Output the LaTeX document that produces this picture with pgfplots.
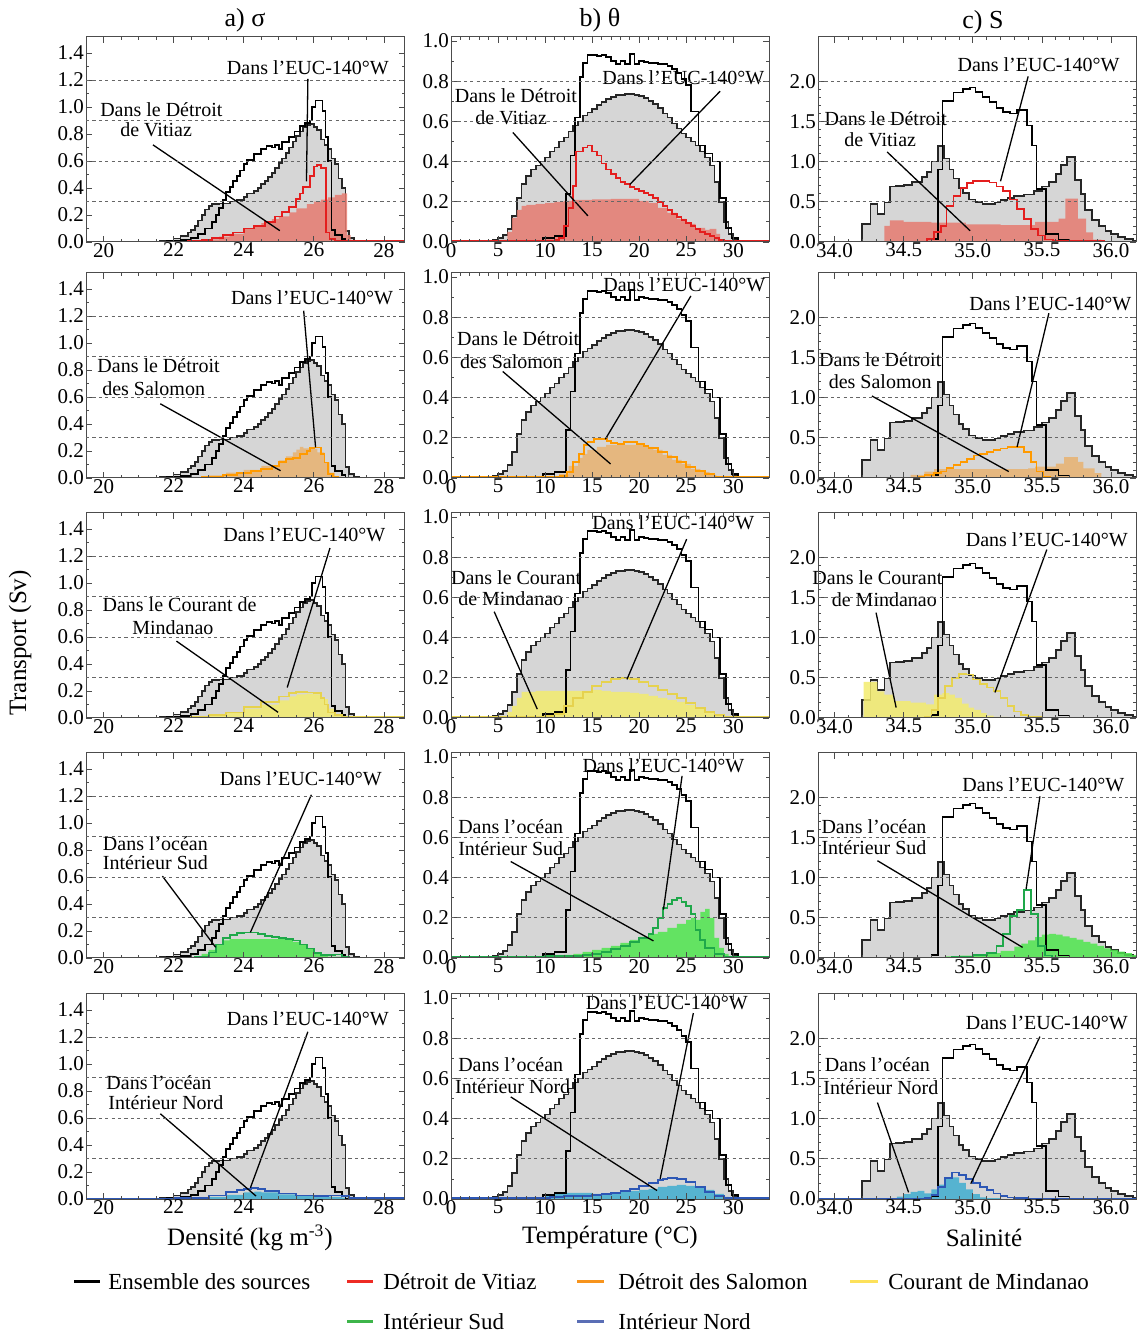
\documentclass[border=0pt]{standalone}
\usepackage{pgfplots}
\pgfplotsset{compat=1.18}
\usepackage{pgfplotstable}
\usepackage{fontspec}
\setmainfont{Liberation Serif}

\definecolor{grayfill}{HTML}{D6D6D6}
\definecolor{redline}{HTML}{E41E1E}
\definecolor{redfill}{HTML}{E67B70}
\definecolor{orline}{HTML}{FF9A00}
\definecolor{orfill}{HTML}{E8B270}
\definecolor{yeline}{HTML}{E6D24E}
\definecolor{yefill}{HTML}{F3EC6E}
\definecolor{grline}{HTML}{1FA84A}
\definecolor{grfill}{HTML}{4FE64E}
\definecolor{blline}{HTML}{2D57B5}
\definecolor{blfill}{HTML}{40AED0}
\definecolor{legred}{HTML}{EE2B24}
\definecolor{legor}{HTML}{F7941D}
\definecolor{legye}{HTML}{FDE15A}
\definecolor{leggr}{HTML}{3DB54A}
\definecolor{legbl}{HTML}{5A6EB5}

% ---------- shared totals (density) ----------
\pgfplotstableread{
x y
19.5 0.003
21.6 0.006
21.8 0.012
22.0 0.025
22.2 0.045
22.4 0.07
22.5 0.09
22.6 0.12
22.7 0.16
22.8 0.2
22.9 0.24
23.0 0.265
23.1 0.28
23.3 0.285
23.6 0.30
23.8 0.31
24.0 0.335
24.1 0.36
24.3 0.38
24.4 0.40
24.5 0.43
24.6 0.45
24.7 0.48
24.8 0.51
24.9 0.55
25.0 0.585
25.1 0.62
25.2 0.66
25.3 0.70
25.4 0.745
25.5 0.785
25.6 0.82
25.7 0.85
25.8 0.865
25.9 0.875
26.0 0.855
26.1 0.83
26.2 0.76
26.3 0.72
26.4 0.69
26.5 0.62
26.6 0.58
26.7 0.47
26.8 0.40
26.9 0.08
27.0 0.03
27.15 0.005
27.3 0
28.6 0
}\Aa
\pgfplotstableread{
x y
19.5 0.003
21.8 0.006
22.2 0.015
22.5 0.03
22.7 0.06
22.9 0.10
23.1 0.15
23.2 0.20
23.3 0.25
23.4 0.31
23.5 0.37
23.6 0.41
23.7 0.45
23.8 0.49
23.9 0.53
24.0 0.58
24.1 0.61
24.3 0.65
24.5 0.69
24.65 0.71
24.8 0.70
24.9 0.72
25.0 0.69
25.1 0.74
25.3 0.78
25.45 0.82
25.6 0.86
25.75 0.88
25.9 0.90
25.95 1.00
26.05 1.05
26.25 0.97
26.33 0.78
26.4 0.60
26.5 0.09
26.6 0.05
26.8 0.02
26.9 0
28.6 0
}\Ba
% ---------- shared totals (temperature) ----------
\pgfplotstableread{
x y
0 0.005
4.5 0.01
5.0 0.02
5.5 0.035
6.0 0.065
6.5 0.13
7.0 0.22
7.5 0.29
8.0 0.33
8.5 0.36
9.0 0.38
9.5 0.40
10.0 0.42
10.5 0.45
11.0 0.47
11.5 0.50
12.0 0.52
12.5 0.55
13.0 0.58
13.5 0.60
14.0 0.63
14.5 0.645
15.0 0.66
15.5 0.68
16.0 0.695
16.5 0.71
17.0 0.72
17.5 0.73
18.5 0.735
19.5 0.73
20.0 0.725
20.5 0.715
21.0 0.70
21.5 0.685
22.0 0.665
22.5 0.64
23.0 0.62
23.5 0.59
24.0 0.565
24.5 0.54
25.0 0.52
25.5 0.50
26.0 0.48
26.5 0.45
27.0 0.42
27.5 0.38
28.0 0.30
28.5 0.20
29.0 0.10
29.5 0.04
30.0 0.015
30.5 0.005
31.0 0
33.8 0
}\Ab
\pgfplotstableread{
x y
0 0.005
9.8 0.02
11.0 0.03
12.2 0.24
12.7 0.43
13.2 0.62
13.7 0.82
14.0 0.89
14.5 0.93
15.5 0.925
16.0 0.93
16.5 0.92
17.0 0.90
17.5 0.885
18.0 0.90
18.5 0.885
19.0 0.935
19.5 0.885
20.0 0.90
20.5 0.895
21.0 0.89
22.0 0.885
23.0 0.875
23.5 0.86
24.0 0.84
24.5 0.81
25.0 0.78
25.5 0.65
26.3 0.48
27.0 0.44
27.8 0.40
28.6 0.22
29.2 0.07
29.8 0.02
30.5 0
33.8 0
}\Bb
% ---------- shared totals (salinity) ----------
\pgfplotstableread{
x y
33.88 0.002
34.2 0.22
34.26 0.47
34.31 0.35
34.36 0.49
34.4 0.69
34.44 0.70
34.5 0.71
34.56 0.75
34.63 0.81
34.67 0.87
34.7 1.0
34.75 1.19
34.79 1.04
34.83 0.9
34.86 0.79
34.9 0.67
34.93 0.61
34.97 0.53
35.02 0.50
35.07 0.47
35.16 0.49
35.2 0.52
35.25 0.55
35.3 0.57
35.37 0.59
35.44 0.63
35.5 0.69
35.55 0.75
35.6 0.85
35.64 0.96
35.68 1.06
35.74 0.77
35.78 0.6
35.81 0.4
35.86 0.27
35.91 0.2
35.96 0.14
36.0 0.1
36.05 0.065
36.1 0.04
36.16 0.02
36.18 0.02
}\Ac
\pgfplotstableread{
x y
33.88 0.005
34.7 0.04
34.75 0.9
34.78 1.75
34.86 1.86
34.93 1.9
34.98 1.92
35.02 1.87
35.07 1.8
35.12 1.74
35.17 1.67
35.22 1.62
35.27 1.60
35.32 1.64
35.39 1.45
35.43 1.2
35.46 0.66
35.53 0.1
35.62 0.03
35.7 0
36.18 0
}\Bc

\pgfplotsset{
  base/.style={scale only axis, anchor=south west, height=102.5pt,
    axis on top, clip mode=individual,
    axis line style={black!70, line width=0.5pt},
    every tick/.style={black!70, line width=0.4pt},
    major tick length=3pt, minor tick length=1.5pt,
    tick align=inside,
    tick label style={font=\fontsize{10.5}{12}\selectfont},
    xticklabel style={yshift=3pt},
    yticklabel style={xshift=2.5pt},
    /pgf/number format/assume math mode=true,
    extra y tick labels={},
    extra y tick style={grid=major, major tick length=0pt},
    major grid style={black!60, line width=0.45pt, dash pattern=on 1.6pt off 1.6pt},
  },
  cola/.style={base, width=159.5pt, xmin=19.5, xmax=28.6, ymin=0, ymax=1.52,
    xtick={20,22,24,26,28}, ytick={0,0.2,0.4,0.6,0.8,1.0,1.2,1.4},
    minor x tick num=3, minor y tick num=1,
    extra y ticks={0.3,0.6,0.9,1.2},
    y tick label style={/pgf/number format/fixed, /pgf/number format/fixed zerofill, /pgf/number format/precision=1}},
  colb/.style={base, width=159pt, xmin=0, xmax=33.8, ymin=0, ymax=1.02,
    xtick={0,5,10,15,20,25,30}, ytick={0,0.2,0.4,0.6,0.8,1.0},
    minor x tick num=4, minor y tick num=1,
    extra y ticks={0.2,0.4,0.6,0.8},
    y tick label style={/pgf/number format/fixed, /pgf/number format/fixed zerofill, /pgf/number format/precision=1}},
  colc/.style={base, width=159pt, xmin=33.88, xmax=36.18, ymin=0, ymax=2.55,
    xtick={34,34.5,35,35.5,36}, ytick={0,0.5,1,1.5,2},
    minor x tick num=4, minor y tick num=4,
    extra y ticks={0.5,1,1.5,2},
    x tick label style={/pgf/number format/fixed, /pgf/number format/fixed zerofill, /pgf/number format/precision=1},
    y tick label style={/pgf/number format/fixed, /pgf/number format/fixed zerofill, /pgf/number format/precision=1}},
  gfill/.style={const plot, fill=grayfill, draw=none},
  gline/.style={const plot, black!85, line width=0.85pt},
  bline/.style={const plot, black, line width=0.85pt},
  cfill/.style={const plot, fill=#1, fill opacity=0.85, draw=none},
  cline/.style={const plot, draw=#1, line width=0.85pt},
}
\tikzset{ann/.style={font=\fontsize{10}{11}\selectfont, inner sep=0pt},
  aline/.style={line width=0.65pt, black}}

\begin{document}
\begin{tikzpicture}
\useasboundingbox (0,0) rectangle (569pt,667pt);

% ===================== ROW 1 : Vitiaz =====================
\begin{axis}[cola, at={(43pt,546pt)}]
\addplot[gfill] table {\Aa} \closedcycle;
\addplot[gline] table {\Aa};
\addplot[cfill=redfill] coordinates {(19.5,0) (22.6,0.005) (23.0,0.02) (23.3,0.04) (23.6,0.06) (24.0,0.10) (24.3,0.12) (24.5,0.14) (24.8,0.17) (25.0,0.19) (25.3,0.22) (25.5,0.25) (25.8,0.28) (26.0,0.30) (26.2,0.315) (26.4,0.33) (26.6,0.35) (26.8,0.36) (26.95,0.05) (27.05,0) (28.6,0)} \closedcycle;
\addplot[bline] table {\Ba};
\addplot[cline=redline] coordinates {(19.5,0.003) (22.4,0.006) (22.8,0.015) (23.1,0.03) (23.4,0.05) (23.7,0.07) (24.0,0.10) (24.3,0.12) (24.6,0.15) (24.9,0.19) (25.1,0.22) (25.3,0.26) (25.5,0.32) (25.6,0.36) (25.7,0.41) (25.9,0.49) (26.0,0.56) (26.1,0.57) (26.2,0.55) (26.35,0.07) (26.45,0.02) (26.6,0.005) (28.6,0.005)};
\node[ann] at (axis cs:25.83,1.29) {Dans l’EUC-140°W};
\draw[aline] (axis cs:25.83,1.21) -- (axis cs:25.79,0.45);
\node[ann] at (axis cs:21.65,0.98) {Dans le Détroit};
\node[ann] at (axis cs:21.5,0.83) {de Vitiaz};
\draw[aline] (axis cs:21.41,0.72) -- (axis cs:25.03,0.084);
\end{axis}

\begin{axis}[colb, at={(225.5pt,546pt)}]
\addplot[gfill] table {\Ab} \closedcycle;
\addplot[gline] table {\Ab};
\addplot[cfill=redfill] coordinates {(0,0.003) (5.5,0.01) (6.0,0.05) (6.5,0.12) (7.0,0.16) (7.5,0.18) (8.0,0.185) (9.0,0.19) (10.0,0.195) (11.0,0.20) (12.0,0.205) (13.0,0.21) (15.0,0.212) (17.0,0.215) (19.0,0.215) (20.0,0.205) (21.0,0.195) (22.0,0.17) (23.0,0.145) (24.0,0.115) (25.0,0.09) (26.0,0.07) (27.0,0.06) (27.5,0.065) (28.2,0.04) (28.6,0.005) (29,0) (33.8,0)} \closedcycle;
\addplot[bline] table {\Bb};
\addplot[cline=redline] coordinates {(0,0.004) (10.0,0.006) (11.0,0.01) (11.5,0.02) (12.0,0.08) (12.5,0.17) (13.0,0.28) (13.3,0.45) (14.0,0.47) (14.5,0.48) (15.0,0.45) (15.5,0.43) (16.0,0.39) (16.5,0.36) (17.0,0.34) (17.5,0.32) (18.0,0.30) (18.5,0.29) (19.0,0.275) (19.5,0.265) (20.0,0.255) (20.5,0.245) (21.0,0.235) (21.5,0.22) (22.0,0.20) (22.5,0.18) (23.0,0.16) (23.5,0.14) (24.0,0.125) (24.5,0.11) (25.0,0.095) (25.5,0.08) (26.0,0.065) (26.5,0.05) (27.0,0.04) (27.5,0.03) (28.0,0.02) (28.5,0.01) (29.0,0.004) (33.8,0.004)};
\node[ann] at (axis cs:24.7,0.815) {Dans l’EUC-140°W};
\draw[aline] (axis cs:28.6,0.75) -- (axis cs:19.0,0.286);
\node[ann] at (axis cs:6.9,0.726) {Dans le Détroit};
\node[ann] at (axis cs:6.4,0.617) {de Vitiaz};
\draw[aline] (axis cs:6.57,0.545) -- (axis cs:14.55,0.13);
\end{axis}

\begin{axis}[colc, at={(409pt,546pt)}]
\addplot[gfill] table {\Ac} \closedcycle;
\addplot[gline] table {\Ac};
\addplot[cfill=redfill] coordinates {(33.88,0) (34.36,0.2) (34.4,0.27) (34.5,0.25) (34.7,0.24) (34.95,0.22) (35.2,0.21) (35.45,0.25) (35.62,0.29) (35.67,0.54) (35.76,0.29) (35.82,0.12) (35.87,0.03) (35.93,0) (36.18,0)} \closedcycle;
\addplot[bline] table {\Bc};
\addplot[cline=redline] coordinates {(33.88,0.005) (34.67,0.04) (34.72,0.12) (34.77,0.2) (34.81,0.45) (34.86,0.57) (34.91,0.67) (34.96,0.73) (35.0,0.755) (35.12,0.74) (35.17,0.69) (35.22,0.63) (35.27,0.53) (35.32,0.41) (35.37,0.29) (35.42,0.16) (35.47,0.08) (35.52,0.03) (35.58,0.01) (35.95,0.005) (36.18,0.005)};
\node[ann] at (axis cs:35.475,2.2) {Dans l’EUC-140°W};
\draw[aline] (axis cs:35.40,2.06) -- (axis cs:35.2,0.755);
\node[ann] at (axis cs:34.37,1.53) {Dans le Détroit};
\node[ann] at (axis cs:34.33,1.27) {de Vitiaz};
\draw[aline] (axis cs:34.38,1.12) -- (axis cs:34.98,0.14);
\end{axis}

% ===================== ROW 2 : Salomon =====================
\begin{axis}[cola, at={(43pt,428pt)}]
\addplot[gfill] table {\Aa} \closedcycle;
\addplot[gline] table {\Aa};
\addplot[cfill=orfill] coordinates {(19.5,0) (22.5,0.005) (23.0,0.02) (23.5,0.04) (24.0,0.06) (24.5,0.09) (25.0,0.13) (25.2,0.16) (25.4,0.19) (25.5,0.21) (25.6,0.23) (25.7,0.22) (25.9,0.215) (26.1,0.19) (26.3,0.115) (26.45,0.04) (26.6,0.01) (26.8,0) (28.6,0)} \closedcycle;
\addplot[bline] table {\Ba};
\addplot[cline=orline] coordinates {(19.5,0.004) (22.8,0.01) (23.4,0.02) (23.8,0.035) (24.2,0.05) (24.5,0.065) (24.8,0.09) (25.0,0.12) (25.2,0.14) (25.4,0.15) (25.6,0.18) (25.8,0.2) (25.9,0.22) (26.0,0.225) (26.2,0.18) (26.3,0.115) (26.4,0.03) (26.55,0.01) (26.7,0.004) (28.6,0.004)};
\node[ann] at (axis cs:25.95,1.34) {Dans l’EUC-140°W};
\draw[aline] (axis cs:25.71,1.24) -- (axis cs:26.05,0.227);
\node[ann] at (axis cs:21.57,0.83) {Dans le Détroit};
\node[ann] at (axis cs:21.43,0.66) {des Salomon};
\draw[aline] (axis cs:21.62,0.55) -- (axis cs:25.05,0.054);
\end{axis}

\begin{axis}[colb, at={(225.5pt,428pt)}]
\addplot[gfill] table {\Ab} \closedcycle;
\addplot[gline] table {\Ab};
\addplot[cfill=orfill] coordinates {(0,0.003) (10,0.005) (11.5,0.02) (12.5,0.06) (13.5,0.10) (14,0.12) (14.5,0.14) (15.5,0.155) (16.5,0.165) (19.5,0.165) (20.5,0.155) (21.5,0.14) (22.5,0.115) (23.5,0.09) (24.5,0.07) (25.5,0.045) (26.5,0.03) (27.5,0.015) (28.2,0.005) (28.8,0) (33.8,0)} \closedcycle;
\addplot[bline] table {\Bb};
\addplot[cline=orline] coordinates {(0,0.004) (11.6,0.01) (12.3,0.03) (13.0,0.08) (13.6,0.12) (14.1,0.165) (14.5,0.18) (15.2,0.195) (16.6,0.185) (17.0,0.175) (17.7,0.17) (18.4,0.18) (19.8,0.17) (20.5,0.16) (21.0,0.15) (22.0,0.13) (23.0,0.105) (24.0,0.08) (25.0,0.055) (26.0,0.035) (27.0,0.02) (28.0,0.008) (29.0,0.004) (33.8,0.004)};
\node[ann] at (axis cs:24.8,0.964) {Dans l’EUC-140°W};
\draw[aline] (axis cs:25.5,0.906) -- (axis cs:16.4,0.193);
\node[ann] at (axis cs:7.14,0.693) {Dans le Détroit};
\node[ann] at (axis cs:6.43,0.579) {des Salomon};
\draw[aline] (axis cs:5.5,0.53) -- (axis cs:16.96,0.07);
\end{axis}

\begin{axis}[colc, at={(409pt,428pt)}]
\addplot[gfill] table {\Ac} \closedcycle;
\addplot[gline] table {\Ac};
\addplot[cfill=orfill] coordinates {(33.88,0) (34.55,0.04) (34.65,0.08) (34.72,0.11) (35.4,0.12) (35.45,0.14) (35.6,0.18) (35.66,0.26) (35.76,0.2) (35.8,0.12) (35.88,0.06) (35.93,0) (36.18,0)} \closedcycle;
\addplot[bline] table {\Bc};
\addplot[cline=orline] coordinates {(33.88,0.005) (34.6,0.01) (34.65,0.04) (34.72,0.06) (34.77,0.08) (34.81,0.12) (34.86,0.16) (34.91,0.2) (34.96,0.24) (35.01,0.28) (35.05,0.3) (35.1,0.325) (35.15,0.345) (35.2,0.365) (35.25,0.385) (35.37,0.325) (35.42,0.2) (35.46,0.08) (35.51,0.02) (35.56,0.005) (36.18,0.005)};
\node[ann] at (axis cs:35.56,2.17) {Dans l’EUC-140°W};
\draw[aline] (axis cs:35.55,2.05) -- (axis cs:35.32,0.386);
\node[ann] at (axis cs:34.33,1.47) {Dans le Détroit};
\node[ann] at (axis cs:34.33,1.2) {des Salomon};
\draw[aline] (axis cs:34.27,1.02) -- (axis cs:35.26,0.08);
\end{axis}

% ===================== ROW 3 : Mindanao =====================
\begin{axis}[cola, at={(43pt,308pt)}]
\addplot[gfill] table {\Aa} \closedcycle;
\addplot[gline] table {\Aa};
\addplot[cfill=yefill] coordinates {(19.5,0) (22.4,0.005) (23.0,0.02) (23.5,0.04) (24.0,0.07) (24.5,0.10) (25.0,0.13) (25.3,0.16) (25.5,0.175) (25.8,0.18) (26.0,0.175) (26.2,0.14) (26.4,0.07) (26.6,0.02) (26.8,0) (28.6,0)} \closedcycle;
\addplot[bline] table {\Ba};
\addplot[cline=yeline] coordinates {(19.5,0.004) (22.5,0.005) (23.0,0.02) (23.5,0.04) (24.0,0.08) (24.5,0.12) (25.0,0.16) (25.3,0.185) (25.5,0.195) (25.8,0.19) (26.0,0.185) (26.2,0.15) (26.3,0.1) (26.4,0.04) (26.6,0.02) (26.8,0.005) (28.6,0.004)};
\node[ann] at (axis cs:25.73,1.36) {Dans l’EUC-140°W};
\draw[aline] (axis cs:26.46,1.26) -- (axis cs:25.24,0.226);
\node[ann] at (axis cs:22.17,0.84) {Dans le Courant de};
\node[ann] at (axis cs:21.98,0.67) {Mindanao};
\draw[aline] (axis cs:22.08,0.57) -- (axis cs:24.98,0.042);
\end{axis}

\begin{axis}[colb, at={(225.5pt,308pt)}]
\addplot[gfill] table {\Ab} \closedcycle;
\addplot[gline] table {\Ab};
\addplot[cfill=yefill] coordinates {(0,0.003) (5.5,0.01) (6.0,0.03) (6.5,0.06) (7.0,0.10) (7.5,0.13) (9.0,0.135) (14.0,0.135) (15.0,0.14) (16.0,0.135) (17.0,0.13) (19.0,0.125) (20.0,0.12) (21.0,0.11) (22.0,0.10) (23.0,0.09) (24.0,0.08) (25.0,0.065) (26.0,0.05) (27.0,0.03) (28.0,0.015) (29.0,0.005) (29.5,0) (33.8,0)} \closedcycle;
\addplot[bline] table {\Bb};
\addplot[cline=yeline] coordinates {(0,0.004) (9.5,0.006) (10,0.01) (11,0.02) (12,0.06) (13,0.1) (14,0.13) (15,0.16) (16,0.18) (17,0.195) (18,0.2) (19,0.195) (20,0.18) (21,0.16) (22,0.14) (23,0.12) (24,0.1) (25,0.075) (26,0.05) (27,0.03) (28,0.015) (29,0.005) (30,0.004) (33.8,0.004)};
\node[ann] at (axis cs:23.64,0.972) {Dans l’EUC-140°W};
\draw[aline] (axis cs:25.05,0.89) -- (axis cs:18.7,0.192);
\node[ann] at (axis cs:6.92,0.70) {Dans le Courant};
\node[ann] at (axis cs:6.35,0.594) {de Mindanao};
\draw[aline] (axis cs:4.59,0.529) -- (axis cs:9.17,0.044);
\end{axis}

\begin{axis}[colc, at={(409pt,308pt)}]
\addplot[gfill] table {\Ac} \closedcycle;
\addplot[gline] table {\Ac};
\addplot[cfill=yefill] coordinates {(33.88,0) (34.21,0.45) (34.31,0.33) (34.36,0.29) (34.43,0.21) (34.55,0.19) (34.66,0.17) (34.72,0.29) (34.78,0.31) (34.83,0.29) (34.87,0.25) (34.92,0.18) (34.97,0.13) (35.01,0.1) (35.06,0.06) (35.1,0.03) (35.15,0.015) (35.25,0) (36.18,0)} \closedcycle;
\addplot[bline] table {\Bc};
\addplot[cline=yeline] coordinates {(33.88,0.005) (34.65,0.01) (34.7,0.1) (34.75,0.25) (34.8,0.4) (34.85,0.5) (34.9,0.55) (34.95,0.54) (35.0,0.48) (35.05,0.42) (35.1,0.38) (35.15,0.34) (35.2,0.25) (35.25,0.15) (35.3,0.08) (35.35,0.04) (35.4,0.01) (35.5,0.005) (36.18,0.005)};
\node[ann] at (axis cs:35.535,2.22) {Dans l’EUC-140°W};
\draw[aline] (axis cs:35.535,2.095) -- (axis cs:35.16,0.318);
\node[ann] at (axis cs:34.31,1.74) {Dans le Courant};
\node[ann] at (axis cs:34.36,1.475) {de Mindanao};
\draw[aline] (axis cs:34.3,1.31) -- (axis cs:34.445,0.13);
\end{axis}

% ===================== ROW 4 : Interieur Sud =====================
\begin{axis}[cola, at={(43pt,188pt)}]
\addplot[gfill] table {\Aa} \closedcycle;
\addplot[gline] table {\Aa};
\addplot[cfill=grfill] coordinates {(19.5,0) (22.5,0.005) (22.8,0.03) (23.0,0.06) (23.2,0.10) (23.4,0.13) (23.6,0.14) (25.2,0.135) (25.4,0.12) (25.6,0.10) (25.8,0.07) (26.0,0.04) (26.2,0.02) (26.4,0.01) (26.8,0.005) (27.0,0) (28.6,0)} \closedcycle;
\addplot[bline] table {\Ba};
\addplot[cline=grline] coordinates {(19.5,0.004) (22.6,0.01) (23.0,0.04) (23.2,0.1) (23.4,0.15) (23.6,0.17) (23.8,0.185) (24.0,0.19) (24.2,0.19) (24.4,0.18) (24.6,0.165) (24.8,0.155) (25.0,0.15) (25.2,0.14) (25.4,0.13) (25.6,0.10) (25.8,0.07) (26.0,0.035) (26.2,0.02) (26.4,0.02) (26.6,0.025) (26.8,0.01) (27.0,0.004) (28.6,0.004)};
\node[ann] at (axis cs:25.63,1.33) {Dans l’EUC-140°W};
\draw[aline] (axis cs:25.93,1.21) -- (axis cs:24.19,0.19);
\node[ann] at (axis cs:21.48,0.85) {Dans l’océan};
\node[ann] at (axis cs:21.48,0.705) {Intérieur Sud};
\draw[aline] (axis cs:21.68,0.607) -- (axis cs:23.2,0.079);
\end{axis}

\begin{axis}[colb, at={(225.5pt,188pt)}]
\addplot[gfill] table {\Ab} \closedcycle;
\addplot[gline] table {\Ab};
\addplot[cfill=grfill] coordinates {(0,0.003) (9,0.005) (11,0.01) (12,0.015) (13,0.02) (14,0.03) (15,0.04) (16,0.05) (17,0.06) (18,0.075) (19,0.09) (20,0.105) (21,0.12) (22,0.13) (23,0.15) (24,0.17) (25,0.19) (25.5,0.2) (26,0.19) (26.5,0.23) (27,0.245) (27.5,0.2) (28,0.1) (28.5,0.05) (29,0.02) (29.5,0.005) (30,0) (33.8,0)} \closedcycle;
\addplot[bline] table {\Bb};
\addplot[cline=grline] coordinates {(0,0.004) (9,0.006) (10,0.01) (14,0.015) (15,0.02) (16,0.03) (17,0.045) (18,0.06) (19,0.08) (20,0.10) (21,0.12) (21.5,0.15) (22,0.2) (22.5,0.25) (23,0.27) (23.5,0.29) (24,0.30) (24.5,0.28) (25,0.26) (25.5,0.22) (26,0.14) (26.5,0.09) (27,0.05) (28,0.02) (29,0.008) (30,0.004) (33.8,0.004)};
\node[ann] at (axis cs:22.58,0.956) {Dans l’EUC-140°W};
\draw[aline] (axis cs:24.56,0.906) -- (axis cs:22.58,0.241);
\node[ann] at (axis cs:6.35,0.652) {Dans l’océan};
\node[ann] at (axis cs:6.35,0.545) {Intérieur Sud};
\draw[aline] (axis cs:6.35,0.48) -- (axis cs:21.52,0.085);
\end{axis}

\begin{axis}[colc, at={(409pt,188pt)}]
\addplot[gfill] table {\Ac} \closedcycle;
\addplot[gline] table {\Ac};
\addplot[cfill=grfill] coordinates {(33.88,0) (34.5,0.005) (34.7,0.01) (34.8,0.02) (34.9,0.03) (35.0,0.04) (35.1,0.06) (35.2,0.09) (35.3,0.14) (35.35,0.18) (35.4,0.22) (35.45,0.26) (35.5,0.29) (35.55,0.30) (35.6,0.29) (35.65,0.27) (35.7,0.25) (35.75,0.23) (35.8,0.2) (35.85,0.18) (35.9,0.15) (35.95,0.12) (36.0,0.1) (36.05,0.08) (36.1,0.06) (36.15,0.04) (36.18,0.04)} \closedcycle;
\addplot[bline] table {\Bc};
\addplot[cline=grline] coordinates {(33.88,0.005) (34.85,0.01) (34.9,0.02) (35.0,0.04) (35.1,0.06) (35.17,0.15) (35.22,0.3) (35.27,0.52) (35.32,0.6) (35.37,0.85) (35.42,0.55) (35.47,0.15) (35.52,0.03) (35.57,0.005) (36.18,0.005)};
\node[ann] at (axis cs:35.51,2.16) {Dans l’EUC-140°W};
\draw[aline] (axis cs:35.485,2.01) -- (axis cs:35.385,0.855);
\node[ann] at (axis cs:34.285,1.64) {Dans l’océan};
\node[ann] at (axis cs:34.285,1.37) {Intérieur Sud};
\draw[aline] (axis cs:34.31,1.21) -- (axis cs:35.36,0.132);
\end{axis}

% ===================== ROW 5 : Interieur Nord =====================
\begin{axis}[cola, at={(43pt,67.5pt)}]
\addplot[gfill] table {\Aa} \closedcycle;
\addplot[gline] table {\Aa};
\addplot[cfill=blfill] coordinates {(19.5,0) (22.5,0.005) (23.0,0.015) (23.5,0.03) (24.0,0.05) (24.3,0.055) (24.5,0.05) (25.0,0.035) (25.5,0.025) (26.0,0.02) (26.5,0.015) (26.8,0.01) (27.0,0) (28.6,0)} \closedcycle;
\addplot[bline] table {\Ba};
\addplot[cline=blline] coordinates {(19.5,0.004) (22.0,0.006) (22.5,0.01) (23.0,0.025) (23.5,0.05) (23.8,0.065) (24.0,0.075) (24.2,0.08) (24.4,0.075) (24.6,0.06) (25.0,0.04) (25.5,0.025) (26.0,0.02) (26.4,0.025) (26.8,0.02) (27.0,0.005) (28.6,0.004)};
\node[ann] at (axis cs:25.83,1.34) {Dans l’EUC-140°W};
\draw[aline] (axis cs:25.83,1.24) -- (axis cs:24.19,0.083);
\node[ann] at (axis cs:21.58,0.863) {Dans l’océan};
\node[ann] at (axis cs:21.78,0.717) {Intérieur Nord};
\draw[aline] (axis cs:21.62,0.632) -- (axis cs:24.35,0.022);
\end{axis}

\begin{axis}[colb, at={(225.5pt,67.5pt)}]
\addplot[gfill] table {\Ab} \closedcycle;
\addplot[gline] table {\Ab};
\addplot[cfill=blfill] coordinates {(0,0.003) (9,0.005) (10,0.015) (11,0.025) (12,0.03) (15,0.025) (17,0.03) (18,0.035) (19,0.04) (20,0.045) (21,0.05) (22,0.06) (23,0.065) (24,0.07) (25,0.065) (26,0.06) (27,0.045) (28,0.025) (29,0.01) (29.5,0) (33.8,0)} \closedcycle;
\addplot[bline] table {\Bb};
\addplot[cline=blline] coordinates {(0,0.004) (9.5,0.006) (10.5,0.01) (12,0.015) (15,0.02) (16,0.025) (17,0.03) (18,0.04) (19,0.05) (20,0.065) (21,0.08) (22,0.095) (22.5,0.1) (23,0.105) (24,0.1) (25,0.085) (26,0.06) (27,0.035) (28,0.015) (29,0.006) (30,0.004) (33.8,0.004)};
\node[ann] at (axis cs:22.94,0.975) {Dans l’EUC-140°W};
\draw[aline] (axis cs:25.76,0.925) -- (axis cs:22.23,0.1);
\node[ann] at (axis cs:6.35,0.667) {Dans l’océan};
\node[ann] at (axis cs:6.56,0.558) {Intérieur Nord};
\draw[aline] (axis cs:6.35,0.508) -- (axis cs:21.9,0.042);
\end{axis}

\begin{axis}[colc, at={(409pt,67.5pt)}]
\addplot[gfill] table {\Ac} \closedcycle;
\addplot[gline] table {\Ac};
\addplot[cfill=blfill] coordinates {(33.88,0) (34.35,0.01) (34.45,0.03) (34.5,0.06) (34.55,0.09) (34.6,0.1) (34.65,0.07) (34.7,0.12) (34.75,0.18) (34.8,0.25) (34.85,0.27) (34.9,0.2) (34.95,0.12) (35.0,0.06) (35.05,0.02) (35.1,0.01) (35.2,0) (36.18,0)} \closedcycle;
\addplot[bline] table {\Bc};
\addplot[cline=blline] coordinates {(33.88,0.005) (34.65,0.01) (34.7,0.05) (34.75,0.15) (34.8,0.26) (34.85,0.33) (34.9,0.3) (34.95,0.25) (35.0,0.2) (35.05,0.15) (35.1,0.11) (35.15,0.07) (35.2,0.04) (35.25,0.02) (35.3,0.01) (35.4,0.005) (36.18,0.005)};
\node[ann] at (axis cs:35.535,2.19) {Dans l’EUC-140°W};
\draw[aline] (axis cs:35.485,2.02) -- (axis cs:34.985,0.19);
\node[ann] at (axis cs:34.31,1.67) {Dans l’océan};
\node[ann] at (axis cs:34.335,1.39) {Intérieur Nord};
\draw[aline] (axis cs:34.31,1.2) -- (axis cs:34.535,0.083);
\end{axis}

% ===================== titles, labels, legend =====================
\node[font=\fontsize{13}{15}\selectfont] at (122.5pt,657pt) {a) σ};
\node[font=\fontsize{13}{15}\selectfont] at (300pt,657pt) {b) θ};
\node[font=\fontsize{13}{15}\selectfont] at (491.5pt,656pt) {c) S};
\node[font=\fontsize{12.5}{14}\selectfont] at (125pt,48.2pt) {Densité (kg m\textsuperscript{-3})};
\node[font=\fontsize{12.5}{14}\selectfont] at (305pt,48.2pt) {Température (°C)};
\node[font=\fontsize{12.5}{14}\selectfont] at (492pt,48.2pt) {Salinité};
\node[font=\fontsize{12.5}{14}\selectfont, rotate=90] at (10pt,345.5pt) {Transport (Sv)};

\begin{scope}[every node/.style={font=\fontsize{11.5}{13}\selectfont, anchor=west, inner sep=0pt}]
\draw[black, line width=1.6pt] (37pt,26.2pt) -- (50pt,26.2pt);
\node at (54pt,26.2pt) {Ensemble des sources};
\draw[legred, line width=1.6pt] (173.5pt,26.2pt) -- (186.5pt,26.2pt);
\node at (191.5pt,26.2pt) {Détroit de Vitiaz};
\draw[legor, line width=1.6pt] (288.5pt,26.2pt) -- (302pt,26.2pt);
\node at (309pt,26.2pt) {Détroit des Salomon};
\draw[legye, line width=1.6pt] (425pt,26.2pt) -- (439pt,26.2pt);
\node at (444pt,26.2pt) {Courant de Mindanao};
\draw[leggr, line width=1.6pt] (173.5pt,6.4pt) -- (186.5pt,6.4pt);
\node at (191.5pt,6.4pt) {Intérieur Sud};
\draw[legbl, line width=1.6pt] (288.5pt,6.4pt) -- (302pt,6.4pt);
\node at (309pt,6.4pt) {Intérieur Nord};
\end{scope}
\end{tikzpicture}
\end{document}
